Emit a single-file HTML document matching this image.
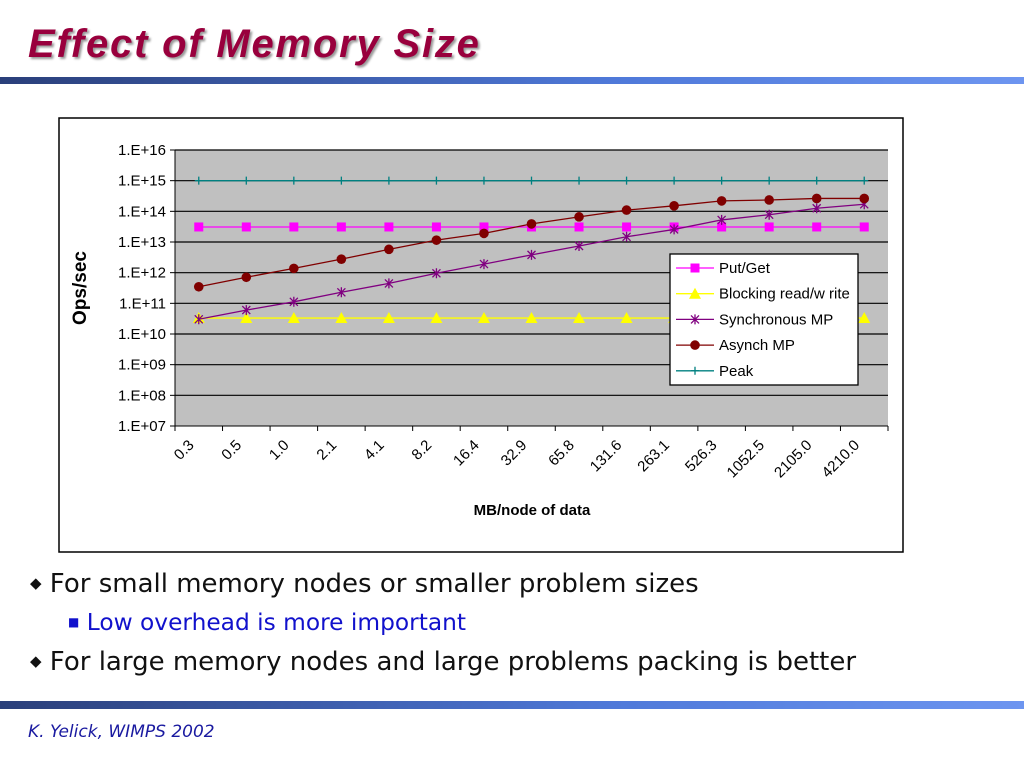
<!DOCTYPE html>
<html><head><meta charset="utf-8"><style>
body{margin:0;width:1024px;height:768px;background:#fff;position:relative;overflow:hidden;font-family:"Liberation Sans",sans-serif}
.title{position:absolute;left:28px;top:22px;font:italic bold 40px "Liberation Sans",sans-serif;letter-spacing:1.8px;color:#99003d;text-shadow:2px 2px 2px #999}
.bar{position:absolute;left:0;width:1024px;background:linear-gradient(90deg,#2a3f7a,#4f79d9 60%,#6d95f0)}
.b{position:absolute;font:26px "DejaVu Sans",sans-serif;color:#111}
.s{position:absolute;font:23.3px "DejaVu Sans",sans-serif;color:#1111cc}
</style></head><body>
<div class="title">Effect of Memory Size</div>
<div class="bar" style="top:77px;height:7px"></div>
<svg width="1024" height="768" style="position:absolute;left:0;top:0" id="chart">
<rect x="59" y="118" width="844" height="434" fill="#fff" stroke="#000" stroke-width="1.5"/>
<rect x="175" y="150" width="713" height="276" fill="#c0c0c0"/>
<g id="grid"></g><g id="axes"></g><g id="series"></g>
<text x="86" y="288" transform="rotate(-90 86 288)" text-anchor="middle" font-size="19" font-weight="bold" font-family="Liberation Sans">Ops/sec</text>
<text x="532" y="515" text-anchor="middle" font-size="15" font-weight="bold" font-family="Liberation Sans">MB/node of data</text>
<g id="legend"></g>
</svg>
<div class="b" style="left:30px;top:569px"><span style="font-size:15px;position:relative;top:-4px">◆</span> For small memory nodes or smaller problem sizes</div>
<div class="s" style="left:68px;top:609px"><span style="font-size:12px;position:relative;top:-4px">■</span> Low overhead is more important</div>
<div class="b" style="left:30px;top:647px"><span style="font-size:15px;position:relative;top:-4px">◆</span> For large memory nodes and large problems packing is better</div>
<div class="bar" style="top:701px;height:8px"></div>
<div style="position:absolute;left:28px;top:722px;font:italic 17px 'DejaVu Sans',sans-serif;color:#1a1aa0">K. Yelick, WIMPS 2002</div>
<script>
const categories=["0.3","0.5","1.0","2.1","4.1","8.2","16.4","32.9","65.8","131.6","263.1","526.3","1052.5","2105.0","4210.0"];
const yTicks=[7,8,9,10,11,12,13,14,15,16];
const putGet=[13.49,13.49,13.49,13.49,13.49,13.49,13.49,13.49,13.49,13.49,13.49,13.49,13.49,13.49,13.49];
const blocking=[10.52,10.52,10.52,10.52,10.52,10.52,10.52,10.52,10.52,10.52,10.52,10.52,10.52,10.52,10.52];
const syncMP=[10.48,10.78,11.05,11.36,11.65,11.98,12.28,12.58,12.87,13.17,13.41,13.72,13.89,14.10,14.23];
const asyncMP=[11.54,11.85,12.14,12.44,12.76,13.06,13.28,13.59,13.82,14.04,14.18,14.34,14.37,14.42,14.42];
const peak=[15,15,15,15,15,15,15,15,15,15,15,15,15,15,15];
const NS="http://www.w3.org/2000/svg";
const X0=175,X1=888,Y0=426,Y1=150;
const bw=(X1-X0)/categories.length;
const xs=i=>X0+bw*(i+0.5);
const ys=v=>Y0-(v-7)/9*(Y0-Y1);
function mk(t,a,p){const e=document.createElementNS(NS,t);for(const k in a)e.setAttribute(k,a[k]);p.appendChild(e);return e;}
const grid=document.getElementById('grid'),axes=document.getElementById('axes'),ser=document.getElementById('series'),leg=document.getElementById('legend');
yTicks.forEach(v=>{const y=ys(v);
 if(v>7){const g=mk('line',{x1:X0,x2:X1,y1:y,y2:y,stroke:'#000','stroke-width':1.2},grid);
 
 }
 mk('line',{x1:X0-5,x2:X0,y1:y,y2:y,stroke:'#000'},axes);
 const t=mk('text',{x:X0-9,y:y+5,'text-anchor':'end','font-size':15,'font-family':'Liberation Sans'},axes);t.textContent='1.E+'+(v<10?'0'+v:v);
 
 });
mk('line',{x1:X0,x2:X0,y1:Y1,y2:Y0,stroke:'#000'},axes);
mk('line',{x1:X0,x2:X1,y1:Y0,y2:Y0,stroke:'#000'},axes);
for(let i=0;i<=categories.length;i++){const x=X0+bw*i;mk('line',{x1:x,x2:x,y1:Y0,y2:Y0+5,stroke:'#000'},axes);}
categories.forEach((c,i)=>{const x=xs(i)-4,y=446;const t=mk('text',{x:x,y:y,'text-anchor':'end','font-size':15,'font-family':'Liberation Sans',transform:`rotate(-45 ${x} ${y})`},axes);t.textContent=c;
 
 });
function marker(type,x,y,col,p){
 if(type==='sq')mk('rect',{x:x-4.5,y:y-4.5,width:9,height:9,fill:col},p);
 else if(type==='tri')mk('polygon',{points:`${x},${y-6} ${x-6},${y+5} ${x+6},${y+5}`,fill:col},p);
 else if(type==='star'){mk('path',{d:`M${x-4},${y-4}L${x+4},${y+4}M${x-4},${y+4}L${x+4},${y-4}M${x},${y-5}L${x},${y+5}`,stroke:col,'stroke-width':1.3},p);}
 else if(type==='dot')mk('circle',{cx:x,cy:y,r:4.8,fill:col},p);
 else if(type==='plus')mk('path',{d:`M${x-4},${y}L${x+4},${y}M${x},${y-4}L${x},${y+4}`,stroke:col,'stroke-width':1.3},p);}
const S=[{n:'Put/Get',d:putGet,c:'#ff00ff',m:'sq',id:'put-get'},{n:'Blocking read/w rite',d:blocking,c:'#ffff00',m:'tri',id:'blocking'},{n:'Synchronous MP',d:syncMP,c:'#800080',m:'star',id:'sync-mp'},{n:'Asynch MP',d:asyncMP,c:'#800000',m:'dot',id:'async-mp'},{n:'Peak',d:peak,c:'#008080',m:'plus',id:'peak'}];
S.forEach(s=>{const g=mk('g',{},ser);
 
 
 mk('polyline',{points:s.d.map((v,i)=>xs(i)+','+ys(v)).join(' '),fill:'none',stroke:s.c,'stroke-width':1.3},g);
 s.d.forEach((v,i)=>marker(s.m,xs(i),ys(v),s.c,g));});
const lb=mk('rect',{x:670,y:254,width:188,height:131,fill:'#fff',stroke:'#000','stroke-width':1.3},leg);


S.forEach((s,i)=>{const y=268+i*25.7;const g=mk('g',{},leg);
 
 
 mk('line',{x1:676,x2:714,y1:y,y2:y,stroke:s.c,'stroke-width':1.3},g);marker(s.m,695,y,s.c,g);
 const t=mk('text',{x:719,y:y+5,'font-size':15,'font-family':'Liberation Sans'},g);t.textContent=s.n;});
</script>
</body></html>
